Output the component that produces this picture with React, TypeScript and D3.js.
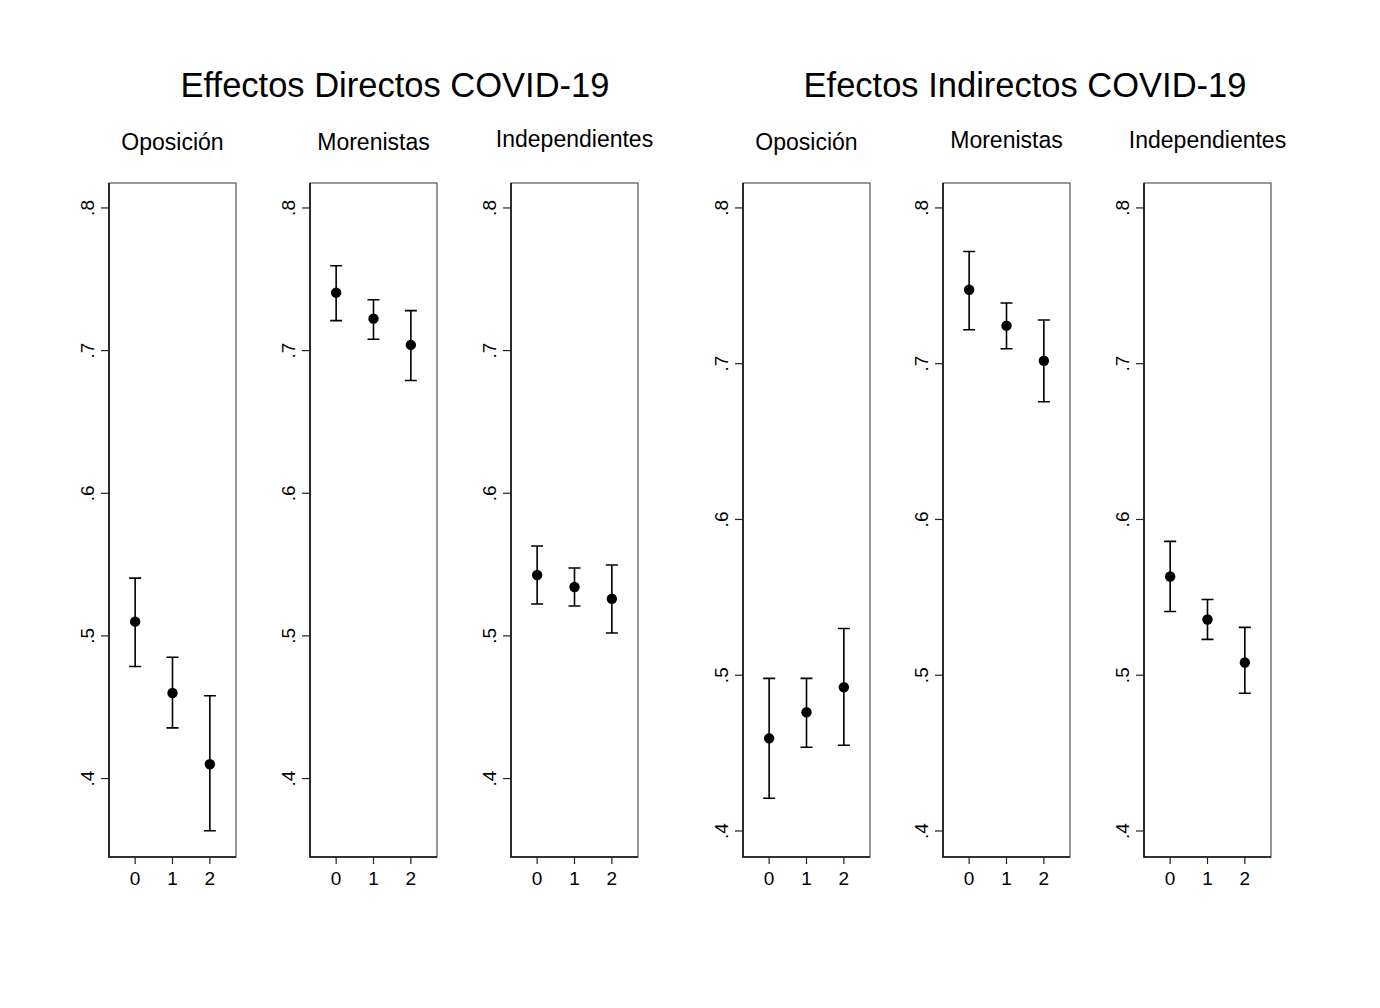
import React, { useEffect, useRef } from "react";
import * as d3 from "d3";

// panel headings
const groupTitles = ["Effectos Directos COVID-19", "Efectos Indirectos COVID-19"];
const panelNames = ["Oposición", "Morenistas", "Independientes"];
const xTicks = [0, 1, 2];
const yTicks = [0.4, 0.5, 0.6, 0.7, 0.8];
const yTickLabels = [".4", ".5", ".6", ".7", ".8"];

// estimates (point, lower, upper) per panel, index = x category 0..2
const directPoint = [
  [0.51, 0.46, 0.41],
  [0.7406, 0.7224, 0.704],
  [0.5427, 0.5343, 0.526],
];
const directLow = [
  [0.4785, 0.4355, 0.3634],
  [0.721, 0.708, 0.679],
  [0.5224, 0.521, 0.502],
];
const directHigh = [
  [0.5405, 0.485, 0.458],
  [0.7595, 0.7357, 0.728],
  [0.563, 0.5476, 0.5497],
];

const indirectPoint = [
  [0.4595, 0.4762, 0.4923],
  [0.7475, 0.7244, 0.7019],
  [0.5634, 0.5358, 0.5082],
];
const indirectLow = [
  [0.421, 0.4538, 0.455],
  [0.7218, 0.7096, 0.6756],
  [0.5409, 0.523, 0.4884],
];
const indirectHigh = [
  [0.498, 0.498, 0.53],
  [0.772, 0.739, 0.728],
  [0.5859, 0.5486, 0.5307],
];

const groupYDomain: [number, number][] = [
  [0.345, 0.8175],
  [0.3833, 0.816],
];

const App: React.FC = () => {
  const svgRef = useRef<SVGSVGElement | null>(null);
  const width = 1380;
  const height = 1008;

  useEffect(() => {
    if (!svgRef.current) return;
    const svg = d3.select(svgRef.current);
    svg.selectAll("*").remove();

    svg.append("rect").attr("width", width).attr("height", height).attr("fill", "#fff");

    const font = "Liberation Sans, Arial, Helvetica, sans-serif";
    const panelW = 127;
    const top = 183;
    const bottom = 857;
    const groupLefts = [[109, 310, 511], [743, 943, 1144]];
    const titleX = [395, 1025];
    const subY = [[142, 142, 139], [142, 140, 140]];
    const sets = [
      { p: directPoint, lo: directLow, hi: directHigh },
      { p: indirectPoint, lo: indirectLow, hi: indirectHigh },
    ];

    groupTitles.forEach((t, g) => {
      svg
        .append("text")
        .attr("x", titleX[g])
        .attr("y", 97)
        .attr("text-anchor", "middle")
        .attr("font-family", font)
        .attr("font-size", 34.5)
        .attr("fill", "#000")
        .text(t);

      const y = d3.scaleLinear().domain(groupYDomain[g]).range([bottom, top]);

      groupLefts[g].forEach((left, i) => {
        const x = d3.scaleLinear().domain([-0.7, 2.7]).range([left, left + panelW]);
        const panel = svg.append("g");

        panel
          .append("text")
          .attr("x", left + panelW / 2)
          .attr("y", subY[g][i] + 8)
          .attr("text-anchor", "middle")
          .attr("font-family", font)
          .attr("font-size", 23)
          .attr("fill", "#000")
          .text(panelNames[i]);

        // frame: top/right lighter, axes darker
        panel
          .append("rect")
          .attr("x", left)
          .attr("y", top)
          .attr("width", panelW)
          .attr("height", bottom - top)
          .attr("fill", "none")
          .attr("stroke", "#555")
          .attr("stroke-width", 1.2);
        panel
          .append("path")
          .attr("d", `M${left},${top}V${bottom}H${left + panelW}`)
          .attr("fill", "none")
          .attr("stroke", "#111")
          .attr("stroke-width", 1.6);

        // y ticks
        yTicks.forEach((v, k) => {
          const yy = y(v);
          panel
            .append("line")
            .attr("x1", left - 8)
            .attr("x2", left)
            .attr("y1", yy)
            .attr("y2", yy)
            .attr("stroke", "#222")
            .attr("stroke-width", 1.2);
          panel
            .append("text")
            .attr("transform", `translate(${left - 15},${yy}) rotate(-90)`)
            .attr("text-anchor", "middle")
            .attr("font-family", font)
            .attr("font-size", 19)
            .attr("fill", "#000")
            .text(yTickLabels[k]);
        });

        // x ticks
        xTicks.forEach((v) => {
          const xx = x(v);
          panel
            .append("line")
            .attr("x1", xx)
            .attr("x2", xx)
            .attr("y1", bottom)
            .attr("y2", bottom + 7)
            .attr("stroke", "#222")
            .attr("stroke-width", 1.2);
          panel
            .append("text")
            .attr("x", xx)
            .attr("y", bottom + 28)
            .attr("text-anchor", "middle")
            .attr("font-family", font)
            .attr("font-size", 19)
            .attr("fill", "#000")
            .text(String(v));
        });

        const s = sets[g];
        const rows = xTicks.map((v, k) => ({
          x: v,
          p: s.p[i][k],
          lo: s.lo[i][k],
          hi: s.hi[i][k],
        }));

        rows.forEach((r) => {
          const xx = x(r.x);
          panel
            .append("path")
            .attr(
              "d",
              `M${xx},${y(r.lo)}V${y(r.hi)}M${xx - 6},${y(r.lo)}H${xx + 6}M${xx - 6},${y(r.hi)}H${xx + 6}`
            )
            .attr("stroke", "#000")
            .attr("stroke-width", 1.6)
            .attr("fill", "none");
          panel
            .append("circle")
            .attr("cx", xx)
            .attr("cy", y(r.p))
            .attr("r", 5.2)
            .attr("fill", "#000");
        });
      });
    });
  }, []);

  return <svg ref={svgRef} width={width} height={height} style={{ display: "block", margin: "-8px" }} />;
};

export default App;
